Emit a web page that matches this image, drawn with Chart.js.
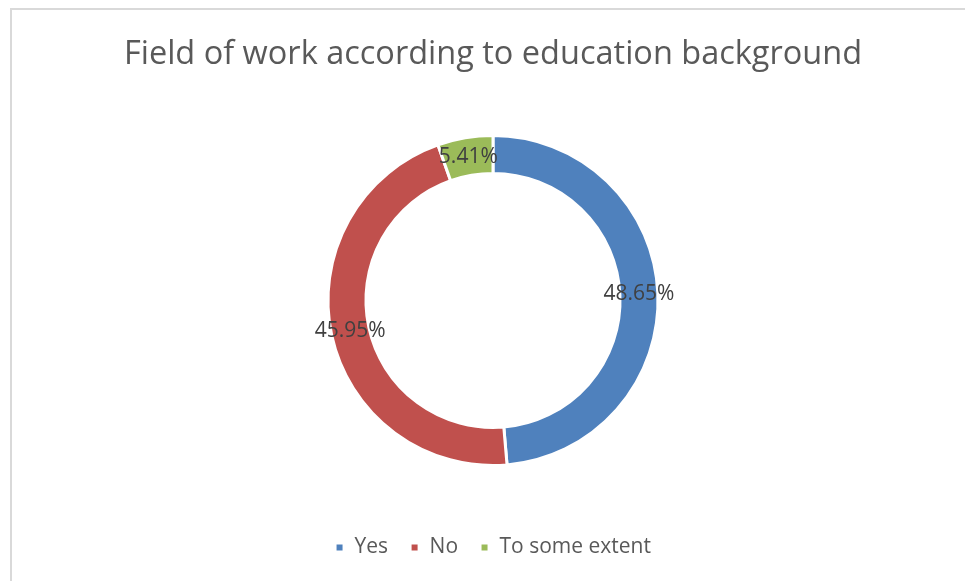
<!DOCTYPE html>
<html>
<head>
<meta charset="utf-8">
<script src="https://cdn.jsdelivr.net/npm/chart.js@4/dist/chart.umd.min.js"></script>
<style>
  html, body { margin: 0; padding: 0; background: #fff; overflow: hidden; }
  #frame {
    position: absolute; left: 10px; top: 8px;
    width: 1000px; height: 620px;
    border: 2px solid #d9d9d9;
  }
  #chart { position: absolute; left: 0; top: 0; }
</style>
</head>
<body>
<div id="frame"></div>
<canvas id="chart" width="965" height="581"></canvas>
<script>
// Doughnut: field of work vs. education background

const categories = ["Yes", "No", "To some extent"];
const shares = [48.65, 45.95, 5.41];
const colors = ["#4F81BD", "#C0504D", "#9BBB59"];

const FONT = "'Open Sans', 'Liberation Sans', sans-serif";

// draws the percentage label in the middle of each ring slice
const sliceLabels = {
  id: "sliceLabels",
  afterDatasetsDraw(chart) {
    const ctx = chart.ctx;
    const meta = chart.getDatasetMeta(0);
    ctx.save();
    ctx.font = "21px " + FONT;
    ctx.fillStyle = "#404040";
    ctx.textAlign = "center";
    ctx.textBaseline = "middle";
    meta.data.forEach((arc, i) => {
      const pos = arc.getCenterPoint();
      ctx.fillText(shares[i].toFixed(2) + "%", pos.x, pos.y);
    });
    ctx.restore();
  },
};

new Chart(document.getElementById("chart"), {
  type: "doughnut",
  data: {
    labels: categories,
    datasets: [
      {
        data: shares,
        backgroundColor: colors,
        borderColor: "#ffffff",
        borderWidth: 3,
      },
    ],
  },
  options: {
    responsive: false,
    animation: false,
    radius: 165,
    cutout: "77%",
    layout: {
      padding: { top: 8, left: 21, right: 0, bottom: 13 },
    },
    plugins: {
      title: {
        display: true,
        text: "Field of work according to education background",
        color: "#595959",
        font: { family: FONT, size: 32.5, weight: "normal" },
        padding: { top: 27, bottom: 12 },
      },
      legend: {
        display: true,
        position: "bottom",
        labels: {
          color: "#595959",
          font: { family: FONT, size: 21 },
          boxWidth: 9,
          boxHeight: 9,
          padding: 22,
        },
      },
      tooltip: { enabled: false },
    },
  },
  plugins: [sliceLabels],
});
</script>
</body>
</html>
